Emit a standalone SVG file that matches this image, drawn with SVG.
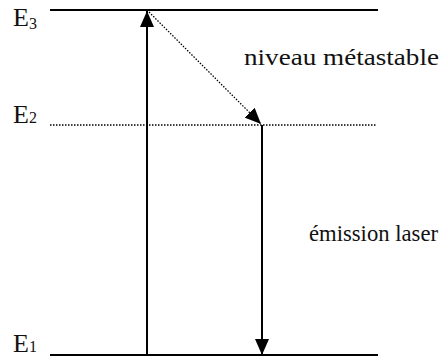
<svg xmlns="http://www.w3.org/2000/svg" width="444" height="360" viewBox="0 0 444 360">
<style>
.lvl{stroke:#000;stroke-width:2;fill:none}
.dot{stroke:#000;stroke-width:1.3;stroke-dasharray:1.5 1.5;fill:none}
.arr{stroke:#000;stroke-width:2;fill:none}
.t{font-family:'Liberation Serif','DejaVu Serif',serif;fill:#111}
</style>
<defs>
<marker id="ah" markerUnits="userSpaceOnUse" markerWidth="16" markerHeight="14" refX="16" refY="7" orient="auto">
<path d="M0,0 L16,7 L0,14 Z" fill="#000"/>
</marker>
</defs>
<g id="levels">
<g id="E3"><line class="lvl" x1="50" y1="10" x2="378" y2="10"/><text class="t" font-size="26" x="13" y="26">E<tspan font-size="16" dy="3">3</tspan></text></g>
<g id="E2"><line class="dot" x1="50" y1="125" x2="377" y2="125"/><text class="t" font-size="26" x="13" y="123">E<tspan font-size="16">2</tspan></text></g>
<g id="E1"><line class="lvl" x1="50" y1="355" x2="378" y2="355"/><text class="t" font-size="26" x="13" y="352">E<tspan font-size="16">1</tspan></text></g>
</g>
<g id="connectors">
<line class="arr" x1="147" y1="355" x2="147" y2="11" marker-end="url(#ah)"/>
<line class="dot" x1="149" y1="12" x2="261" y2="124" marker-end="url(#ah)"/>
<line class="arr" x1="262" y1="125" x2="262" y2="355" marker-end="url(#ah)"/>
</g>
<g id="labels">
<text class="t" font-size="23" x="244" y="65" textLength="195" lengthAdjust="spacingAndGlyphs">niveau métastable</text>
<text class="t" font-size="23" x="309" y="241" textLength="129" lengthAdjust="spacingAndGlyphs">émission laser</text>
</g>
</svg>
